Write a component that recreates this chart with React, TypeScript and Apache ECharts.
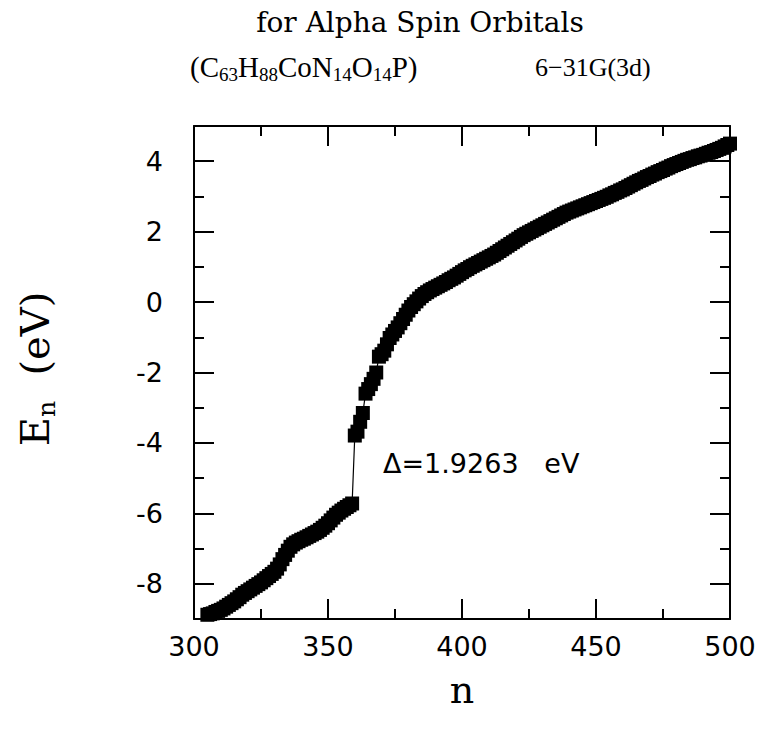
import React, { useEffect, useRef } from "react";
import * as echarts from "echarts";

// Orbital index of the first plotted point (n = nStart + i)
const nStart = 305;

// Orbital energies E_n (eV), alpha spin orbitals, n = 305 ... 500
const energies: number[] = [
  // 305-314
  -8.88, -8.86, -8.84, -8.80, -8.77, -8.74, -8.70, -8.65, -8.60, -8.55,
  // 315-324
  -8.50, -8.44, -8.38, -8.31, -8.26, -8.21, -8.16, -8.11, -8.06, -8.01,
  // 325-334
  -7.96, -7.90, -7.84, -7.78, -7.72, -7.66, -7.57, -7.45, -7.30, -7.18,
  // 335-344
  -7.06, -6.95, -6.88, -6.83, -6.79, -6.75, -6.72, -6.68, -6.64, -6.60,
  // 345-354
  -6.56, -6.52, -6.47, -6.41, -6.35, -6.28, -6.20, -6.12, -6.04, -5.98,
  // 355-359
  -5.92, -5.87, -5.82, -5.77, -5.72,
  // 360-369
  -3.79, -3.68, -3.40, -3.15, -2.60, -2.47, -2.33, -2.18, -2.00, -1.55,
  // 370-379
  -1.48, -1.38, -1.20, -1.02, -0.92, -0.82, -0.72, -0.60, -0.48, -0.36,
  // 380-389
  -0.24, -0.14, -0.06, 0.02, 0.10, 0.17, 0.23, 0.28, 0.33, 0.37,
  // 390-399
  0.41, 0.45, 0.49, 0.53, 0.57, 0.62, 0.66, 0.70, 0.75, 0.80,
  // 400-409
  0.85, 0.90, 0.94, 0.99, 1.03, 1.07, 1.11, 1.15, 1.19, 1.23,
  // 410-419
  1.27, 1.31, 1.35, 1.40, 1.45, 1.50, 1.55, 1.60, 1.65, 1.70,
  // 420-429
  1.75, 1.80, 1.85, 1.90, 1.94, 1.98, 2.02, 2.06, 2.10, 2.14,
  // 430-439
  2.18, 2.22, 2.26, 2.30, 2.34, 2.38, 2.42, 2.46, 2.50, 2.54,
  // 440-449
  2.57, 2.60, 2.63, 2.66, 2.69, 2.72, 2.75, 2.78, 2.81, 2.84,
  // 450-459
  2.87, 2.90, 2.93, 2.96, 2.99, 3.03, 3.06, 3.10, 3.13, 3.17,
  // 460-469
  3.20, 3.24, 3.28, 3.32, 3.36, 3.40, 3.44, 3.47, 3.51, 3.55,
  // 470-479
  3.58, 3.62, 3.65, 3.69, 3.72, 3.75, 3.79, 3.82, 3.86, 3.89,
  // 480-489
  3.92, 3.95, 3.98, 4.01, 4.04, 4.06, 4.09, 4.11, 4.14, 4.16,
  // 490-500
  4.18, 4.21, 4.24, 4.26, 4.29, 4.32, 4.35, 4.38, 4.42, 4.46, 4.50,
];

const yMajorTicks = [-8, -6, -4, -2, 0, 2, 4];

const titleLine1 = "for Alpha Spin Orbitals";
const basisSet = "6\u221231G(3d)";
const gapLabel = "\u0394=1.9263   eV";

const SERIF = "'DejaVu Serif', serif";
const TIMES = "'Liberation Serif', serif";
const SANS = "'DejaVu Sans', sans-serif";
const BLACK = "#000";

export default function App() {
  const ref = useRef<HTMLDivElement>(null);

  useEffect(() => {
    document.body.style.margin = "0";
    if (!ref.current) return;
    const chart = echarts.init(ref.current, undefined, { renderer: "svg" });

    const data = energies.map((e, i) => [nStart + i, e]);

    const line = { color: BLACK, width: 2 };
    const tickLabel = { color: BLACK, fontFamily: SANS, fontSize: 27 };

    const xBase = (pos: string, showLabel: boolean) => ({
      type: "value",
      position: pos,
      min: 300,
      max: 500,
      interval: 50,
      axisLine: { show: true, onZero: false, lineStyle: line },
      axisTick: { show: true, inside: true, length: 20, lineStyle: line },
      minorTick: { show: true, splitNumber: 2, length: 10, lineStyle: line },
      splitLine: { show: false },
      minorSplitLine: { show: false },
      axisLabel: showLabel ? { ...tickLabel, margin: 14 } : { show: false },
    });

    const yMinor = (pos: string, showLabel: boolean) => ({
      type: "value",
      position: pos,
      min: -9,
      max: 5,
      interval: 1,
      axisLine: { show: true, onZero: false, lineStyle: line },
      axisTick: { show: true, inside: true, length: 10, lineStyle: line },
      splitLine: { show: false },
      axisLabel: showLabel
        ? {
            ...tickLabel,
            margin: 31,
            formatter: (v: number) => (v % 2 === 0 ? String(v) : ""),
          }
        : { show: false },
    });

    const yMajor = (pos: string) => ({
      type: "value",
      position: pos,
      min: -9,
      max: 5,
      interval: 1,
      axisLine: { show: false },
      axisTick: {
        show: true,
        inside: true,
        length: 20,
        lineStyle: line,
        customValues: yMajorTicks,
      },
      splitLine: { show: false },
      axisLabel: { show: false },
    });

    const option: any = {
      animation: false,
      backgroundColor: "#fff",
      grid: {
        left: 194,
        right: 32,
        top: 126,
        bottom: 115,
        containLabel: false,
        outerBoundsMode: "none",
      },
      xAxis: [xBase("bottom", true), xBase("top", false)],
      yAxis: [
        yMinor("left", true),
        yMajor("left"),
        yMinor("right", false),
        yMajor("right"),
      ],
      series: [
        {
          type: "line",
          xAxisIndex: 0,
          yAxisIndex: 0,
          data,
          symbol: "rect",
          symbolSize: 14,
          showAllSymbol: true,
          clip: false,
          itemStyle: { color: BLACK },
          lineStyle: { color: BLACK, width: 1.2 },
        },
      ],
      graphic: [
        {
          type: "text",
          x: 420,
          y: 22,
          style: {
            text: titleLine1,
            font: `28px ${SERIF}`,
            fill: BLACK,
            align: "center",
            verticalAlign: "middle",
          },
        },
        {
          type: "text",
          x: 190,
          y: 50,
          style: {
            text: "{m|(C}{s|63}{m|H}{s|88}{m|CoN}{s|14}{m|O}{s|14}{m|P)}",
            fill: BLACK,
            align: "left",
            verticalAlign: "top",
            rich: {
              m: { fontFamily: TIMES, fontSize: 29, lineHeight: 34, verticalAlign: "middle", fill: BLACK },
              s: { fontFamily: TIMES, fontSize: 19, lineHeight: 10, verticalAlign: "bottom", fill: BLACK },
            },
          },
        },
        {
          type: "text",
          x: 535,
          y: 67,
          style: {
            text: basisSet,
            font: `26px ${TIMES}`,
            fill: BLACK,
            align: "left",
            verticalAlign: "middle",
          },
        },
        {
          type: "text",
          x: 383,
          y: 463,
          style: {
            text: gapLabel,
            font: `27px ${SANS}`,
            fill: BLACK,
            align: "left",
            verticalAlign: "middle",
          },
        },
        {
          type: "text",
          x: 462,
          y: 690,
          style: {
            text: "n",
            font: `38px ${SERIF}`,
            fill: BLACK,
            align: "center",
            verticalAlign: "middle",
          },
        },
        {
          type: "text",
          x: 35,
          y: 369,
          rotation: Math.PI / 2,
          style: {
            text: "{m|E}{s|n}{m|  (eV)}",
            fill: BLACK,
            align: "center",
            verticalAlign: "middle",
            rich: {
              m: { fontFamily: SERIF, fontSize: 40, lineHeight: 48, verticalAlign: "middle", fill: BLACK },
              s: { fontFamily: SERIF, fontSize: 25, lineHeight: 12, verticalAlign: "bottom", fill: BLACK },
            },
          },
        },
      ],
    };

    chart.setOption(option);
    return () => chart.dispose();
  }, []);

  return <div ref={ref} style={{ width: 762, height: 734 }} />;
}
